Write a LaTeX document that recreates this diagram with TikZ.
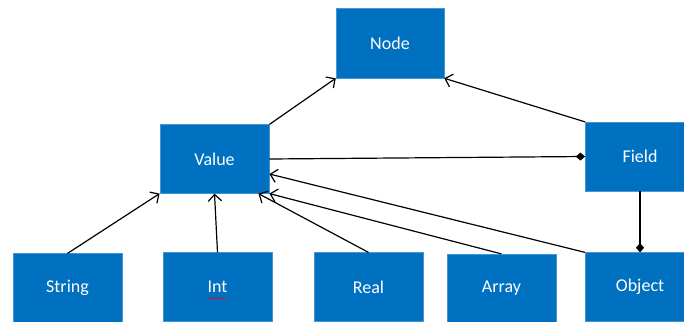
\documentclass[tikz,border=0pt]{standalone}
\usepackage{fontspec}
\setmainfont{Carlito}
\usetikzlibrary{arrows.meta,decorations.pathmorphing}
\definecolor{boxblue}{RGB}{0,112,192}
\definecolor{boxedge}{RGB}{70,150,215}
\begin{document}
\begin{tikzpicture}[x=0.75pt,y=-0.75pt,
  umlbox/.style={rectangle,fill=boxblue,draw=boxedge,line width=0.4pt,
    minimum width=82pt,minimum height=51.5pt,inner sep=0pt,
    text=white,font=\fontsize{13.5pt}{16pt}\selectfont},
  link/.style={draw=black,line width=0.9pt},
  inherit/.style={link,-{Straight Barb[length=5pt,width=10pt,line width=0.9pt]}},
  compose/.style={link,-{Diamond[length=7pt,width=6pt]}}]
\useasboundingbox (0,0) rectangle (684,321);
\clip (0,0) rectangle (684,321);
\node[umlbox,minimum width=81pt,minimum height=52.5pt] (node) at (390,43) {Node};
\node[umlbox] (value) at (214.5,159) {Value};
\node[umlbox] (field) at (640,156.5) {Field};
\node[umlbox] (object) at (640,287) {Object};
\node[umlbox] (string) at (67.5,288) {String};
\node[umlbox] (int) at (217.5,287) {Int};
\node[umlbox] (real) at (368.5,287) {Real};
\node[umlbox] (array) at (501.5,288.5) {Array};
% spell-check underline under Int
\coordinate (sqA) at ([xshift=-7.5pt,yshift=-8.5pt]int.center);
\coordinate (sqB) at ([xshift=7.5pt,yshift=-8.5pt]int.center);
\draw[red,line width=0.35pt,decorate,decoration={snake,amplitude=0.5pt,segment length=2pt}] (sqA) -- (sqB);
% connectors
\draw[inherit] (value.north east) -- (node.south west);
\draw[inherit] (field.north west) -- (node.south east);
\draw[compose] (value.east) -- (field.west);
\draw[compose] (field.south) -- (object.north);
\draw[inherit] (string.north) -- (value.south west);
\draw[inherit] (int.north) -- (value.south);
\draw[inherit] (real.north) -- ([xshift=-8.25pt]value.south east);
\draw[inherit] (array.north) -- (value.south east);
\draw[inherit] (object.north west) -- ([yshift=-11.25pt]value.east);
\end{tikzpicture}
\end{document}
